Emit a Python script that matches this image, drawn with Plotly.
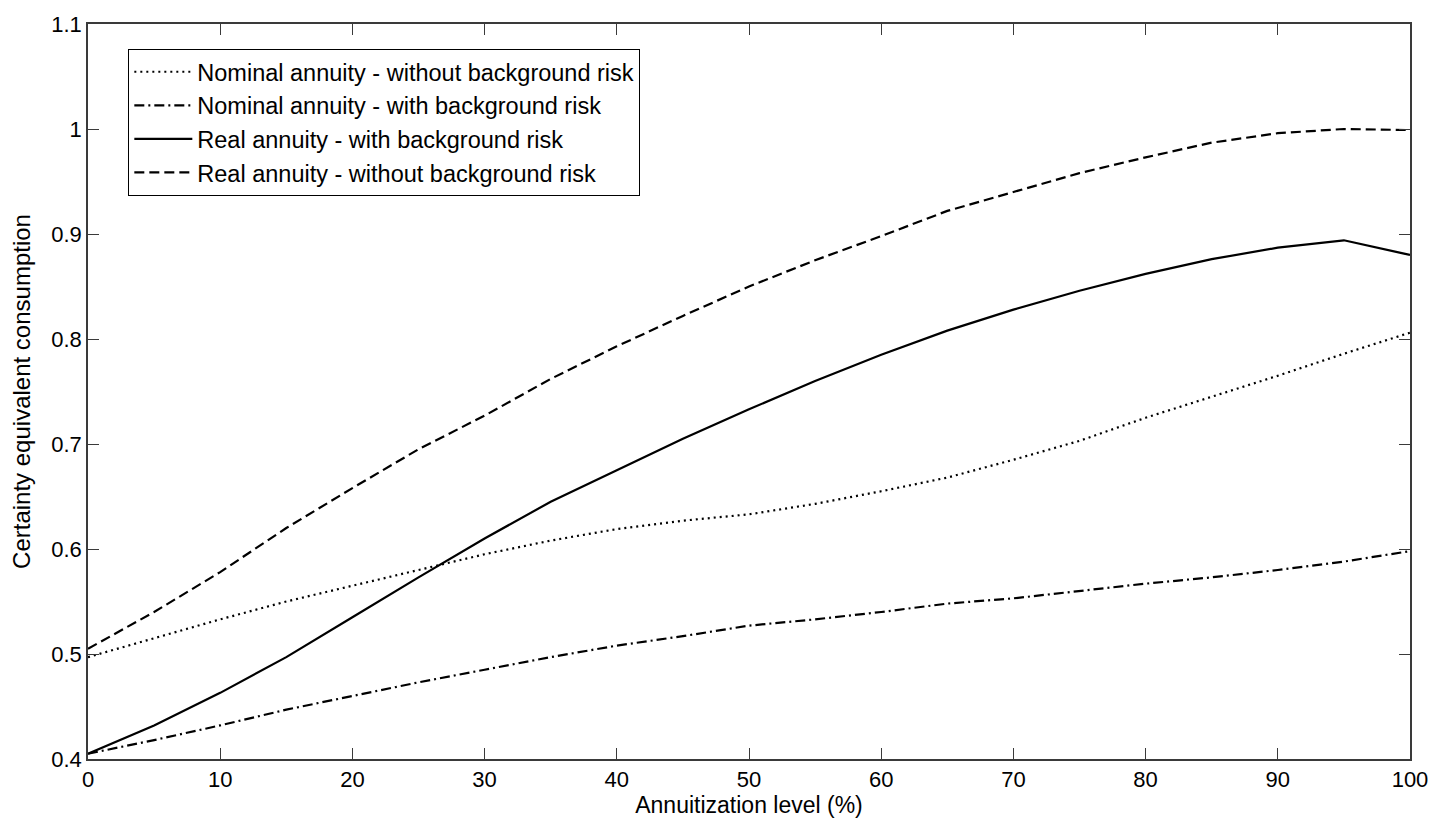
import plotly.graph_objects as go

levels = [0, 5, 10, 15, 20, 25, 30, 35, 40, 45, 50, 55, 60, 65, 70, 75, 80, 85, 90, 95, 100]

nominal_without = [0.497, 0.515, 0.533, 0.550, 0.565, 0.580, 0.595, 0.608, 0.619, 0.627, 0.633, 0.643,
                   0.655, 0.668, 0.685, 0.703, 0.725, 0.745, 0.765, 0.786, 0.806]
nominal_with = [0.405, 0.418, 0.432, 0.447, 0.460, 0.473, 0.485, 0.497, 0.508, 0.517, 0.527, 0.533,
                0.540, 0.548, 0.553, 0.560, 0.567, 0.573, 0.580, 0.588, 0.598]
real_with = [0.405, 0.432, 0.463, 0.497, 0.535, 0.573, 0.610, 0.645, 0.675, 0.705, 0.733, 0.760,
             0.785, 0.808, 0.828, 0.846, 0.862, 0.876, 0.887, 0.894, 0.880]
real_without = [0.505, 0.540, 0.578, 0.620, 0.658, 0.695, 0.727, 0.762, 0.793, 0.822, 0.850, 0.875,
                0.898, 0.922, 0.940, 0.958, 0.973, 0.987, 0.996, 1.000, 0.999]

names = ["Nominal annuity - without background risk",
         "Nominal annuity - with background risk",
         "Real annuity - with background risk",
         "Real annuity - without background risk"]
series = [nominal_without, nominal_with, real_with, real_without]
dashes = ["2px,4px", "10px,4px,2px,4px", "solid", "10px,5px"]

x_ticks = [0, 10, 20, 30, 40, 50, 60, 70, 80, 90, 100]
y_ticks = [0.4, 0.5, 0.6, 0.7, 0.8, 0.9, 1.0, 1.1]
y_labels = ["0.4", "0.5", "0.6", "0.7", "0.8", "0.9", "1", "1.1"]

fig = go.Figure()
for name, ys, d in zip(names, series, dashes):
    fig.add_trace(go.Scatter(x=levels, y=ys, mode="lines", name=name,
                             line=dict(color="black", width=2.2, dash=d)))

axis_common = dict(showline=True, linecolor="#3a3a3a", linewidth=1.5, mirror="ticks",
                   ticks="inside", ticklen=11, tickwidth=1.2, tickcolor="#3a3a3a",
                   showgrid=False, zeroline=False,
                   tickfont=dict(family="Liberation Sans, Arial", size=22, color="black"))

fig.update_layout(
    width=1443, height=824,
    margin=dict(l=88, r=33, t=18, b=65),
    paper_bgcolor="white", plot_bgcolor="white",
    font=dict(family="Liberation Sans, Arial", color="black"),
    showlegend=True,
    legend=dict(x=0.0305, y=0.966, xanchor="left", yanchor="top",
                bgcolor="white", bordercolor="black", borderwidth=1,
                font=dict(size=23.5, family="Liberation Sans, Arial", color="black"),
                itemwidth=58, tracegroupgap=0),
)
fig.update_xaxes(range=[0, 100], tickvals=x_ticks,
                 title=dict(text="Annuitization level (%)", font=dict(size=23), standoff=2),
                 **axis_common)
fig.update_yaxes(range=[0.4, 1.1], tickvals=y_ticks, ticktext=y_labels,
                 title=dict(text="Certainty equivalent consumption", font=dict(size=24), standoff=14),
                 **axis_common)

fig.write_html("out.html")
